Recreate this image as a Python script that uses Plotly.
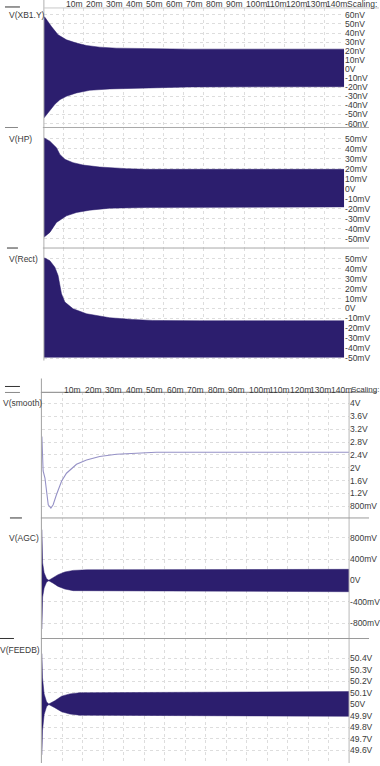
import plotly.graph_objects as go

W, H = 380, 766
FONT = "Liberation Sans, Arial, sans-serif"
NAVY = "#2c1e6e"
GRID = "#dddddd"

# ---------------- data (time in ms) ----------------
time_ticks = [10, 20, 30, 40, 50, 60, 70, 80, 90, 100, 110, 120, 130, 140]
time_labels = [f"{v}m" for v in time_ticks]

xb1_t_hi = [0, 0.5, 3.8, 7.1, 11.3, 16.3, 21.3, 27.9, 36.2, 52.8, 72.8, 150]
xb1_hi = [58, 57.5, 47.1, 38.0, 32.5, 28.9, 26.2, 24.4, 23.3, 22.5, 22.2, 22.2]
xb1_t_lo = [0, 0.5, 3, 5.5, 8, 11.3, 16.3, 22.9, 32.9, 52.8, 72.8, 150]
xb1_lo = [-54, -53.7, -46.0, -38.7, -33.6, -29.9, -26.2, -23.3, -21.8, -20.7, -19.6, -19.3]
xb1_tickvals = [60, 50, 40, 30, 20, 10, 0, -10, -20, -30, -40, -50, -60]
xb1_ticktext = ["60nV", "50nV", "40nV", "30nV", "20nV", "10nV", "0V", "-10nV",
                "-20nV", "-30nV", "-40nV", "-50nV", "-60nV"]

hp_t_hi = [0, 3, 6.3, 8, 10.5, 14.6, 19.6, 27.9, 41.2, 51.2, 150]
hp_hi = [51.2, 47.8, 41.2, 34.5, 29.5, 26.2, 23.8, 21.8, 20.2, 19.5, 19.5]
hp_t_lo = [0, 3, 6.3, 8.8, 11.3, 16.3, 22.9, 32.9, 51.2, 150]
hp_lo = [-48.8, -43.8, -33.8, -30.5, -27.2, -23.8, -21.5, -19.5, -18.8, -18.2]
hp_tickvals = [50, 40, 30, 20, 10, 0, -10, -20, -30, -40, -50]
hp_ticktext = ["50mV", "40mV", "30mV", "20mV", "10mV", "0V", "-10mV", "-20mV",
               "-30mV", "-40mV", "-50mV"]

rect_t_hi = [0, 0.5, 3, 5.5, 7.1, 8.8, 10.5, 14.6, 21.3, 32.9, 44.4, 54.3, 77.7, 150]
rect_hi = [50.7, 50.7, 48, 41.4, 33, 14.7, 6.4, -0.3, -5.3, -9.3, -11, -12, -12.3, -12.3]
rect_t_lo = [0, 150]
rect_lo = [-49, -49]
rect_tickvals = hp_tickvals
rect_ticktext = hp_ticktext

smooth_t = [0, 0.3, 0.6, 1.5, 2.3, 3.1, 4.4, 5.5, 7.1, 9.6, 12.0, 16.9, 21.8,
            28.2, 36.4, 47.7, 55.8, 150]
smooth_v = [2.97, 2.09, 1.9, 1.68, 1.16, 0.85, 0.75, 0.85, 1.16, 1.58, 1.83, 2.11,
            2.24, 2.35, 2.42, 2.45, 2.48, 2.48]
smooth_tickvals = [4, 3.6, 3.2, 2.8, 2.4, 2.0, 1.6, 1.2, 0.8]
smooth_ticktext = ["4V", "3.6V", "3.2V", "2.8V", "2.4V", "2V", "1.6V", "1.2V", "800mV"]

agc_t = [0, 0.15, 0.35, 1.1, 2.3, 3.4, 5.5, 7.9, 11.2, 15.3, 21.8, 150]
agc_hi = [0.955, 0.58, 0.33, 0.146, 0.034, 0.005, 0.05, 0.11, 0.16, 0.19, 0.2, 0.21]
agc_lo = [-0.91, -0.55, -0.31, -0.14, -0.03, -0.005, -0.05, -0.11, -0.16, -0.19, -0.2, -0.21]
agc_tickvals = [0.8, 0.4, 0, -0.4, -0.8]
agc_ticktext = ["800mV", "400mV", "0V", "-400mV", "-800mV"]

feedb_t = [0, 0.3, 1.1, 2.3, 3.4, 6.3, 9.6, 13.6, 18.5, 150]
feedb_hi = [50.44, 50.23, 50.09, 50.02, 50.003, 50.03, 50.07, 50.09, 50.10, 50.11]
feedb_lo = [49.56, 49.77, 49.91, 49.98, 49.997, 49.97, 49.935, 49.915, 49.905, 49.895]
feedb_tickvals = [50.4, 50.3, 50.2, 50.1, 50.0, 49.9, 49.8, 49.7, 49.6]
feedb_ticktext = ["50.4V", "50.3V", "50.2V", "50.1V", "50V", "49.9V", "49.8V", "49.7V", "49.6V"]


def px(x):
    return x / W


def py(y):
    return 1 - y / H


fig = go.Figure()


def band(t_hi, hi, t_lo, lo, xa, ya):
    fig.add_trace(go.Scatter(
        x=list(t_hi) + list(reversed(t_lo)),
        y=list(hi) + list(reversed(lo)),
        fill="toself", fillcolor=NAVY, mode="lines",
        line=dict(width=0.5, color=NAVY), xaxis=xa, yaxis=ya,
        hoverinfo="skip"))


band(xb1_t_hi, xb1_hi, xb1_t_lo, xb1_lo, "x", "y")
band(hp_t_hi, hp_hi, hp_t_lo, hp_lo, "x", "y2")
band(rect_t_hi, rect_hi, rect_t_lo, rect_lo, "x", "y3")
fig.add_trace(go.Scatter(x=smooth_t, y=smooth_v, mode="lines",
                         line=dict(width=1.1, color="#9591c6"),
                         xaxis="x2", yaxis="y4", hoverinfo="skip"))
band(agc_t, agc_hi, agc_t, agc_lo, "x2", "y5")
band(feedb_t, feedb_hi, feedb_t, feedb_lo, "x2", "y6")

tickfont = dict(family=FONT, size=8.5, color="#3a3a3a")
DASH = "3px,3px"


def xax(x0, x1):
    return dict(domain=[px(x0), px(x1)], range=[0, 150], showticklabels=False,
                tickvals=time_ticks, showgrid=True, gridcolor=GRID, griddash=DASH,
                gridwidth=1, zeroline=False, showline=False, ticks="", fixedrange=True)


def yax(y0, y1, rng, tv, tt, anchor):
    return dict(domain=[py(y1), py(y0)], range=rng, side="right", anchor=anchor,
                tickvals=tv, ticktext=tt, tickfont=tickfont, ticks="",
                showgrid=True, gridcolor=GRID, griddash=DASH, gridwidth=1,
                zeroline=False, showline=False, fixedrange=True)


layout = dict(
    width=W, height=H, margin=dict(l=0, r=0, t=0, b=0),
    paper_bgcolor="white", plot_bgcolor="rgba(0,0,0,0)", showlegend=False,
    xaxis=xax(44, 345),
    xaxis2=xax(42, 350),
    yaxis=yax(8, 128, [-64.4, 67.7], xb1_tickvals, xb1_ticktext, "x"),
    yaxis2=yax(128, 249, [-59.5, 61.5], hp_tickvals, hp_ticktext, "x"),
    yaxis3=yax(249, 362, [-52.3, 60.7], rect_tickvals, rect_ticktext, "x"),
    yaxis4=yax(394, 520, [0.44, 4.34], smooth_tickvals, smooth_ticktext, "x2"),
    yaxis5=yax(520, 641, [-1.088, 1.174], agc_tickvals, agc_ticktext, "x2"),
    yaxis6=yax(641, 766, [49.489, 50.572], feedb_tickvals, feedb_ticktext, "x2"),
)
fig.update_layout(**layout)

shapes = []


def line(x0, y0, x1, y1, color="#a8a8a8", width=1):
    shapes.append(dict(type="line", xref="paper", yref="paper",
                       x0=px(x0), y0=py(y0), x1=px(x1), y1=py(y1),
                       line=dict(color=color, width=width)))


# top block frame
line(44, 0, 44, 362, "#b0b0b0")
line(44, 8, 380, 8, "#c8c8c8")
line(43, 128, 370, 128, "#a8a8a8")
line(43, 249, 370, 249, "#a8a8a8")
# bottom block frame
line(41.5, 380, 41.5, 766, "#a0a0a0")
line(350, 394, 350, 766, "#b8b8b8")
line(41, 394, 378, 394, "#9a9a9a", 1.2)
line(41, 520, 370, 520, "#9a9a9a")
line(41, 641, 370, 641, "#9a9a9a", 1.2)
# little trace markers at left
line(5, 7, 20, 7, "#333")
line(5, 128, 18, 128, "#888")
line(7, 249, 18, 249, "#333")
line(5, 388, 20, 388, "#333")
line(5, 394, 20, 394, "#888")
line(10, 520, 22, 520, "#333")
line(0, 641, 14, 641, "#333")
fig.update_layout(shapes=shapes)

ann = []


def text(s, x, y, anchor="left", size=8.5, color="#3a3a3a"):
    ann.append(dict(text=s, xref="paper", yref="paper", x=px(x), y=py(y),
                    xanchor=anchor, yanchor="middle", showarrow=False,
                    font=dict(family=FONT, size=size, color=color)))


for v, lab in zip(time_ticks, time_labels):
    text(lab, 44 + v * 301 / 150, 4.5)
    text(lab, 42 + v * 308 / 150, 391.5)
text("Scaling:", 346, 4.5)
text("Scaling:", 349.5, 391.5, size=8)

text("V(XB1.Y)", 7, 15)
text("V(HP)", 7, 140)
text("V(Rect)", 7, 260)
text("V(smooth)", 1, 405)
text("V(AGC)", 7, 540)
text("V(FEEDB)", -2, 653)
fig.update_layout(annotations=ann)

fig.write_html("out.html")
